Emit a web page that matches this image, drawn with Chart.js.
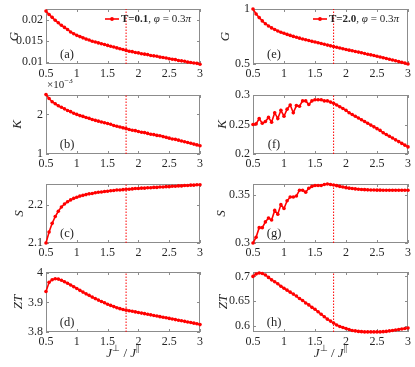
<!DOCTYPE html>
<html>
<head>
<meta charset="utf-8">
<script src="https://cdn.jsdelivr.net/npm/chart.js@4.4.0/dist/chart.umd.min.js"></script>
<style>
  body { margin: 0; background: #fff; width: 415px; height: 367px; position: relative; overflow: hidden; }
  canvas { position: absolute; }
</style>
</head>
<body>
<script>
// x values: J_perp / J_par
const jRatio = [0.5,0.55,0.6,0.65,0.7,0.75,0.8,0.85,0.9,0.95,1.0,1.05,1.1,1.15,1.2,1.25,1.3,1.35,1.4,1.45,1.5,1.55,1.6,1.65,1.7,1.75,1.8,1.85,1.9,1.95,2.0,2.05,2.1,2.15,2.2,2.25,2.3,2.35,2.4,2.45,2.5,2.55,2.6,2.65,2.7,2.75,2.8,2.85,2.9,2.95,3.0];
const xTicks = [0.5, 1, 1.5, 2, 2.5, 3];
const markX = 1.8; // dotted vertical line

// T = 0.1 (left column)
const gLow = [0.0222,0.0214,0.0207,0.0200,0.0194,0.0188,0.0183,0.0178,0.0172,0.0168,0.0164,0.0161,0.0158,0.0155,0.0153,0.0150,0.0148,0.0146,0.0144,0.0142,0.0140,0.0138,0.0136,0.0134,0.0132,0.0130,0.0128,0.0126,0.0125,0.0123,0.0122,0.0120,0.0119,0.0118,0.0116,0.0115,0.0114,0.0112,0.0111,0.0110,0.0108,0.0107,0.0106,0.0104,0.0103,0.0102,0.0100,0.0099,0.0098,0.0097,0.0095];
const kLow = [2.50,2.40,2.32,2.27,2.22,2.18,2.14,2.10,2.07,2.03,2.00,1.97,1.95,1.92,1.90,1.87,1.85,1.83,1.81,1.79,1.77,1.75,1.72,1.70,1.68,1.66,1.64,1.62,1.60,1.59,1.57,1.55,1.54,1.52,1.50,1.49,1.47,1.46,1.44,1.42,1.40,1.38,1.37,1.35,1.33,1.31,1.29,1.27,1.25,1.23,1.21]; // x 1e-3
const sLow = [2.100,2.129,2.152,2.170,2.184,2.195,2.203,2.209,2.214,2.218,2.221,2.224,2.226,2.228,2.230,2.231,2.233,2.234,2.235,2.236,2.237,2.238,2.239,2.240,2.240,2.241,2.242,2.242,2.243,2.244,2.244,2.245,2.245,2.246,2.246,2.247,2.247,2.248,2.248,2.249,2.249,2.250,2.250,2.251,2.251,2.252,2.252,2.253,2.253,2.254,2.254];
const ztLow = [3.937,3.968,3.977,3.980,3.979,3.975,3.970,3.965,3.959,3.953,3.947,3.941,3.935,3.929,3.924,3.918,3.913,3.908,3.903,3.899,3.894,3.890,3.886,3.882,3.879,3.876,3.874,3.872,3.870,3.868,3.866,3.864,3.862,3.860,3.858,3.856,3.854,3.852,3.850,3.848,3.846,3.844,3.842,3.840,3.838,3.836,3.834,3.832,3.830,3.828,3.825];

// T = 2.0 (right column)
const gHigh = [1.000,0.955,0.922,0.892,0.866,0.846,0.828,0.813,0.800,0.789,0.779,0.769,0.760,0.751,0.743,0.735,0.727,0.720,0.713,0.706,0.700,0.693,0.686,0.679,0.672,0.665,0.658,0.652,0.645,0.639,0.632,0.626,0.620,0.614,0.608,0.602,0.596,0.589,0.583,0.577,0.570,0.564,0.557,0.550,0.543,0.536,0.529,0.522,0.515,0.508,0.500];
const kHigh = [0.250,0.251,0.260,0.252,0.255,0.262,0.254,0.270,0.260,0.274,0.264,0.276,0.283,0.270,0.282,0.281,0.290,0.290,0.284,0.290,0.292,0.292,0.292,0.290,0.290,0.288,0.286,0.283,0.280,0.277,0.274,0.270,0.267,0.264,0.261,0.258,0.255,0.252,0.249,0.246,0.243,0.240,0.236,0.233,0.230,0.227,0.224,0.221,0.218,0.215,0.212];
const sHigh = [0.300,0.306,0.316,0.316,0.322,0.326,0.324,0.334,0.330,0.340,0.336,0.344,0.348,0.348,0.349,0.355,0.355,0.353,0.357,0.359,0.360,0.360,0.360,0.361,0.3615,0.361,0.3605,0.3598,0.3590,0.3583,0.3577,0.3572,0.3568,0.3564,0.3561,0.3558,0.3556,0.3554,0.3553,0.3552,0.3551,0.3551,0.3550,0.3550,0.3550,0.3550,0.3550,0.3550,0.3550,0.3550,0.3550];
const ztHigh = [0.700,0.705,0.707,0.706,0.703,0.698,0.693,0.689,0.685,0.680,0.676,0.672,0.668,0.664,0.660,0.655,0.651,0.646,0.642,0.637,0.633,0.628,0.623,0.618,0.613,0.609,0.605,0.601,0.598,0.596,0.594,0.592,0.590,0.589,0.588,0.5875,0.587,0.587,0.587,0.587,0.587,0.587,0.5875,0.588,0.589,0.590,0.591,0.592,0.593,0.594,0.595];

const SERIF = 'Liberation Serif';
const TXT = '#262626';
const AXIS = '#8c8c8c';
const RED = '#ff0000';
Chart.defaults.font.family = SERIF;

// panel setup: col 0 = left, col 1 = right; top/bottom = plot area in page px
const panels = [
  { tag:'(a)', col:0, top:6,   bottom:64,  values:gLow,  min:0.00955, max:0.0227, yTicks:[0.01,0.015,0.02], title:'G',  tpad:7,  legend:'0.1' },
  { tag:'(b)', col:0, top:95,  bottom:154, values:kLow,  min:1, max:2.49, yTicks:[1,2], title:'K', tpad:10, exp:true },
  { tag:'(c)', col:0, top:184, bottom:243, values:sLow,  min:2.1, max:2.256, yTicks:[2.1,2.2], title:'S', tpad:12 },
  { tag:'(d)', col:0, top:272, bottom:332, values:ztLow, min:3.8, max:4.003, yTicks:[3.8,3.9,4], title:'ZT', tpad:11, xlabel:true },
  { tag:'(e)', col:1, top:6,   bottom:64,  values:gHigh, min:0.5, max:1.0, yTicks:[0.5,1], title:'G', tpad:11, legend:'2.0' },
  { tag:'(f)', col:1, top:95,  bottom:154, values:kHigh, min:0.2, max:0.3, yTicks:[0.2,0.25,0.3], title:'K', tpad:8 },
  { tag:'(g)', col:1, top:184, bottom:243, values:sHigh, min:0.3, max:0.3615, yTicks:[0.3,0.35], title:'S', tpad:7 },
  { tag:'(h)', col:1, top:272, bottom:332, values:ztHigh, min:0.5868, max:0.709, yTicks:[0.6,0.65,0.7], title:'ZT', tpad:9, xlabel:true }
];

const decor = {
  id: 'decor',
  beforeDatasetsDraw(chart) {
    const { ctx, chartArea: a, scales } = chart;
    ctx.save();
    ctx.strokeStyle = AXIS;
    ctx.lineWidth = 1;
    ctx.strokeRect(Math.round(a.left) + 0.5, Math.round(a.top) + 0.5, Math.round(a.right - a.left) - 1, Math.round(a.bottom - a.top) - 1);
    ctx.beginPath();
    scales.x.ticks.forEach(t => {
      const px = Math.round(scales.x.getPixelForValue(t.value)) + 0.5;
      ctx.moveTo(px, a.bottom); ctx.lineTo(px, a.bottom - 3);
      ctx.moveTo(px, a.top); ctx.lineTo(px, a.top + 3);
    });
    scales.y.ticks.forEach(t => {
      const py = Math.round(scales.y.getPixelForValue(t.value)) + 0.5;
      ctx.moveTo(a.left, py); ctx.lineTo(a.left + 3, py);
      ctx.moveTo(a.right, py); ctx.lineTo(a.right - 3, py);
    });
    ctx.stroke();
    ctx.restore();
  },
  afterDraw(chart) {
    const { ctx, chartArea: a } = chart;
    const p = chart.options.plugins.decor;
    ctx.save();
    ctx.fillStyle = TXT;
    ctx.textBaseline = 'middle';
    // panel tag
    ctx.font = '12.5px ' + SERIF;
    ctx.textAlign = 'center';
    ctx.fillText(p.tag, a.left + 21, a.bottom - 9);
    ctx.textAlign = 'left';

    if (p.legend) {
      const lx = a.right - 95, ly = a.top + 10;
      ctx.strokeStyle = RED; ctx.lineWidth = 1.6;
      ctx.beginPath(); ctx.moveTo(lx, ly); ctx.lineTo(lx + 14, ly); ctx.stroke();
      ctx.fillStyle = RED;
      ctx.beginPath(); ctx.arc(lx + 7, ly, 1.9, 0, Math.PI * 2); ctx.fill();
      ctx.fillStyle = TXT;
      let x = lx + 16;
      const parts = [
        ['bold 11px ' + SERIF, 'T=' + p.legend],
        ['11px ' + SERIF, ', '],
        ['italic 11px ' + SERIF, 'φ'],
        ['11px ' + SERIF, ' = 0.3'],
        ['italic 11px ' + SERIF, 'π']
      ];
      parts.forEach(([f, s]) => { ctx.font = f; ctx.fillText(s, x, ly); x += ctx.measureText(s).width; });
    }

    if (p.exp) {
      let x = a.left + 1;
      const y = a.top - 10;
      ctx.font = '11px ' + SERIF;
      ctx.fillText('×10', x, y);
      x += ctx.measureText('×10').width;
      ctx.font = '8px ' + SERIF;
      ctx.fillText('−3', x, y - 4);
    }

    if (p.xlabel) {
      const big = 'italic 13px ' + SERIF, small = '9px ' + SERIF, norm = '13px ' + SERIF;
      const parts = [[big, 'J', 0], [small, '⊥', -5], [norm, ' / ', 0], [big, 'J', 0], [small, '||', -5]];
      let w = 0;
      parts.forEach(([f, s]) => { ctx.font = f; w += ctx.measureText(s).width; });
      let x = (a.left + a.right) / 2 - w / 2;
      const y = a.bottom + 22;
      parts.forEach(([f, s, dy]) => { ctx.font = f; ctx.fillText(s, x, y + dy); x += ctx.measureText(s).width; });
    }
    ctx.restore();
  }
};

panels.forEach(p => {
  const colLeft = p.col === 0 ? 0 : 207;
  const colWidth = p.col === 0 ? 207 : 208;
  const padRight = p.col === 0 ? 4 : 6;
  const padTop = p.top < 20 ? p.top : 16;
  const padBottom = p.xlabel ? 30 : 2;
  const xAxisH = 18;
  const height = padTop + (p.bottom - p.top) + xAxisH + padBottom;

  const canvas = document.createElement('canvas');
  canvas.width = colWidth;
  canvas.height = height;
  canvas.style.left = colLeft + 'px';
  canvas.style.top = (p.top - padTop) + 'px';
  document.body.appendChild(canvas);

  new Chart(canvas.getContext('2d'), {
    type: 'line',
    data: {
      datasets: [
        {
          data: [{ x: markX, y: p.min }, { x: markX, y: p.max }],
          borderColor: RED, borderWidth: 1, borderDash: [1.5, 1.5], pointRadius: 0
        },
        {
          data: jRatio.map((x, i) => ({ x: x, y: p.values[i] })),
          borderColor: RED, backgroundColor: RED, borderWidth: 1.6,
          pointRadius: 1.8, pointBorderWidth: 0, clip: false
        }
      ]
    },
    options: {
      responsive: false,
      animation: false,
      devicePixelRatio: 1,
      layout: { padding: { left: 0, right: padRight, top: padTop, bottom: padBottom } },
      plugins: { legend: { display: false }, tooltip: { enabled: false }, decor: p },
      scales: {
        x: {
          type: 'linear', min: 0.5, max: 3,
          grid: { display: false, drawTicks: false }, border: { display: false },
          afterBuildTicks: s => { s.ticks = xTicks.map(v => ({ value: v })); },
          afterFit: s => { s.height = xAxisH; },
          ticks: { font: { size: 12, lineHeight: 1 }, color: TXT, padding: 4, maxRotation: 0, autoSkip: false, callback: v => String(v) }
        },
        y: {
          type: 'linear', min: p.min, max: p.max,
          grid: { display: false, drawTicks: false }, border: { display: false },
          afterBuildTicks: s => { s.ticks = p.yTicks.map(v => ({ value: v })); },
          afterFit: s => { s.width = 46; },
          ticks: { font: { size: 12, lineHeight: 1 }, color: TXT, padding: 3, autoSkip: false, callback: v => String(v) },
          title: { display: true, text: p.title, color: TXT, font: { size: 13, style: 'italic' }, padding: { top: p.tpad, bottom: 0 } }
        }
      }
    },
    plugins: [decor]
  });
});
</script>
</body>
</html>
